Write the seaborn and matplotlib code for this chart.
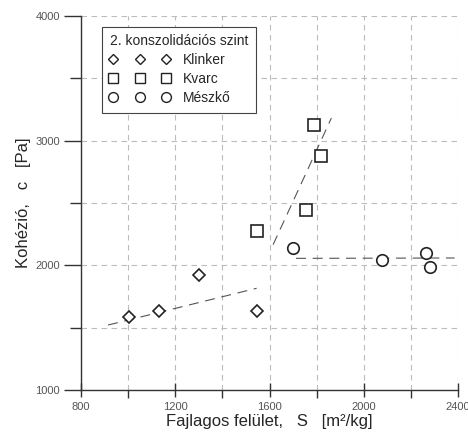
import numpy as np
import pandas as pd
import matplotlib
matplotlib.use("Agg")
import matplotlib.pyplot as plt
from matplotlib.lines import Line2D
from matplotlib.legend_handler import HandlerLine2D
from matplotlib.ticker import MultipleLocator
import seaborn as sns

sns.set_style("white")
plt.rcParams['font.family'] = ['Liberation Sans', 'DejaVu Sans']

klinker_s = [1005, 1130, 1300, 1545]
klinker_c = [1585, 1635, 1920, 1630]
kvarc_s = [1545, 1755, 1820, 1790]
kvarc_c = [2275, 2440, 2880, 3125]
meszko_s = [1700, 2075, 2265, 2280]
meszko_c = [2135, 2040, 2100, 1985]

# fitted trend lines (end points)
klinker_fit_s = [915, 1545]
klinker_fit_c = [1520, 1815]
kvarc_fit_s = [1615, 1862]
kvarc_fit_c = [2165, 3180]
meszko_fit_s = [1712, 2385]
meszko_fit_c = [2055, 2058]

names = ["Klinker", "Kvarc", "Mészkő"]
markers = {"Klinker": "D", "Kvarc": "s", "Mészkő": "o"}
sizes = {"Klinker": 6.0, "Kvarc": 8.3, "Mészkő": 8.3}

pts = pd.DataFrame({
    "S": klinker_s + kvarc_s + meszko_s,
    "c": klinker_c + kvarc_c + meszko_c,
    "anyag": ["Klinker"] * 4 + ["Kvarc"] * 4 + ["Mészkő"] * 4,
})

fig = plt.figure(figsize=(4.68, 4.43), dpi=100)
ax = fig.add_axes([0.173, 0.12, 0.806, 0.844])

# dashed grid behind everything
ax.set_axisbelow(True)
ax.grid(True, which="both", color="#bcbcbc", linestyle=(0, (5, 4)), linewidth=0.8)

# trend lines
for fs, fc in [(klinker_fit_s, klinker_fit_c), (kvarc_fit_s, kvarc_fit_c), (meszko_fit_s, meszko_fit_c)]:
    sns.lineplot(x=fs, y=fc, ax=ax, color="#555555", linewidth=0.8,
                 linestyle=(0, (9, 6)), legend=False)

# markers
for name in names:
    sub = pts[pts["anyag"] == name]
    ax.plot(sub["S"], sub["c"], linestyle="none", marker=markers[name],
            markersize=sizes[name], markerfacecolor="white",
            markeredgecolor="#222222", markeredgewidth=1.2, zorder=3)

ax.set_xlim(800, 2400)
ax.set_ylim(1000, 4000)
ax.xaxis.set_major_locator(MultipleLocator(400))
ax.xaxis.set_minor_locator(MultipleLocator(200))
ax.yaxis.set_major_locator(MultipleLocator(1000))
ax.yaxis.set_minor_locator(MultipleLocator(500))

for side in ["top", "right"]:
    ax.spines[side].set_visible(False)
for side in ["left", "bottom"]:
    ax.spines[side].set_color("#333333")
    ax.spines[side].set_linewidth(1.0)

ax.tick_params(axis="x", which="major", direction="inout", length=10, width=1.0,
               color="#333333", labelsize=8, labelcolor="#555555", pad=4)
ax.tick_params(axis="x", which="minor", direction="out", length=6, width=1.0, color="#333333")
ax.tick_params(axis="y", which="major", direction="out", length=12, width=1.0,
               color="#333333", labelsize=8, labelcolor="#555555", pad=3)
ax.tick_params(axis="y", which="minor", direction="out", length=8, width=1.0, color="#333333")
ax.tick_params(bottom=True, left=True, which="both")

ax.set_xlabel("Fajlagos felület,   S   [m\u00b2/kg]", fontsize=12, labelpad=1)
ax.set_ylabel("Kohézió,   c   [Pa]", fontsize=12, labelpad=3)

handles = [Line2D([], [], linestyle="none", marker=markers[n], markersize=sizes[n] * 0.85,
                  markerfacecolor="white", markeredgecolor="#222222", markeredgewidth=1.0)
           for n in names]
leg = ax.legend(handles, names, title="2. konszolidációs szint", numpoints=3,
                loc="upper left", bbox_to_anchor=(0.056, 0.971), fontsize=10,
                title_fontsize=10, handlelength=4.3, handletextpad=1.0,
                labelspacing=0.35, borderpad=0.55, borderaxespad=0,
                fancybox=False, framealpha=1, edgecolor="#444444",
                handler_map={Line2D: HandlerLine2D(marker_pad=0.25)})
leg._legend_box.align = "left"
leg.get_frame().set_linewidth(0.8)

fig.savefig("out.png", dpi=100)
